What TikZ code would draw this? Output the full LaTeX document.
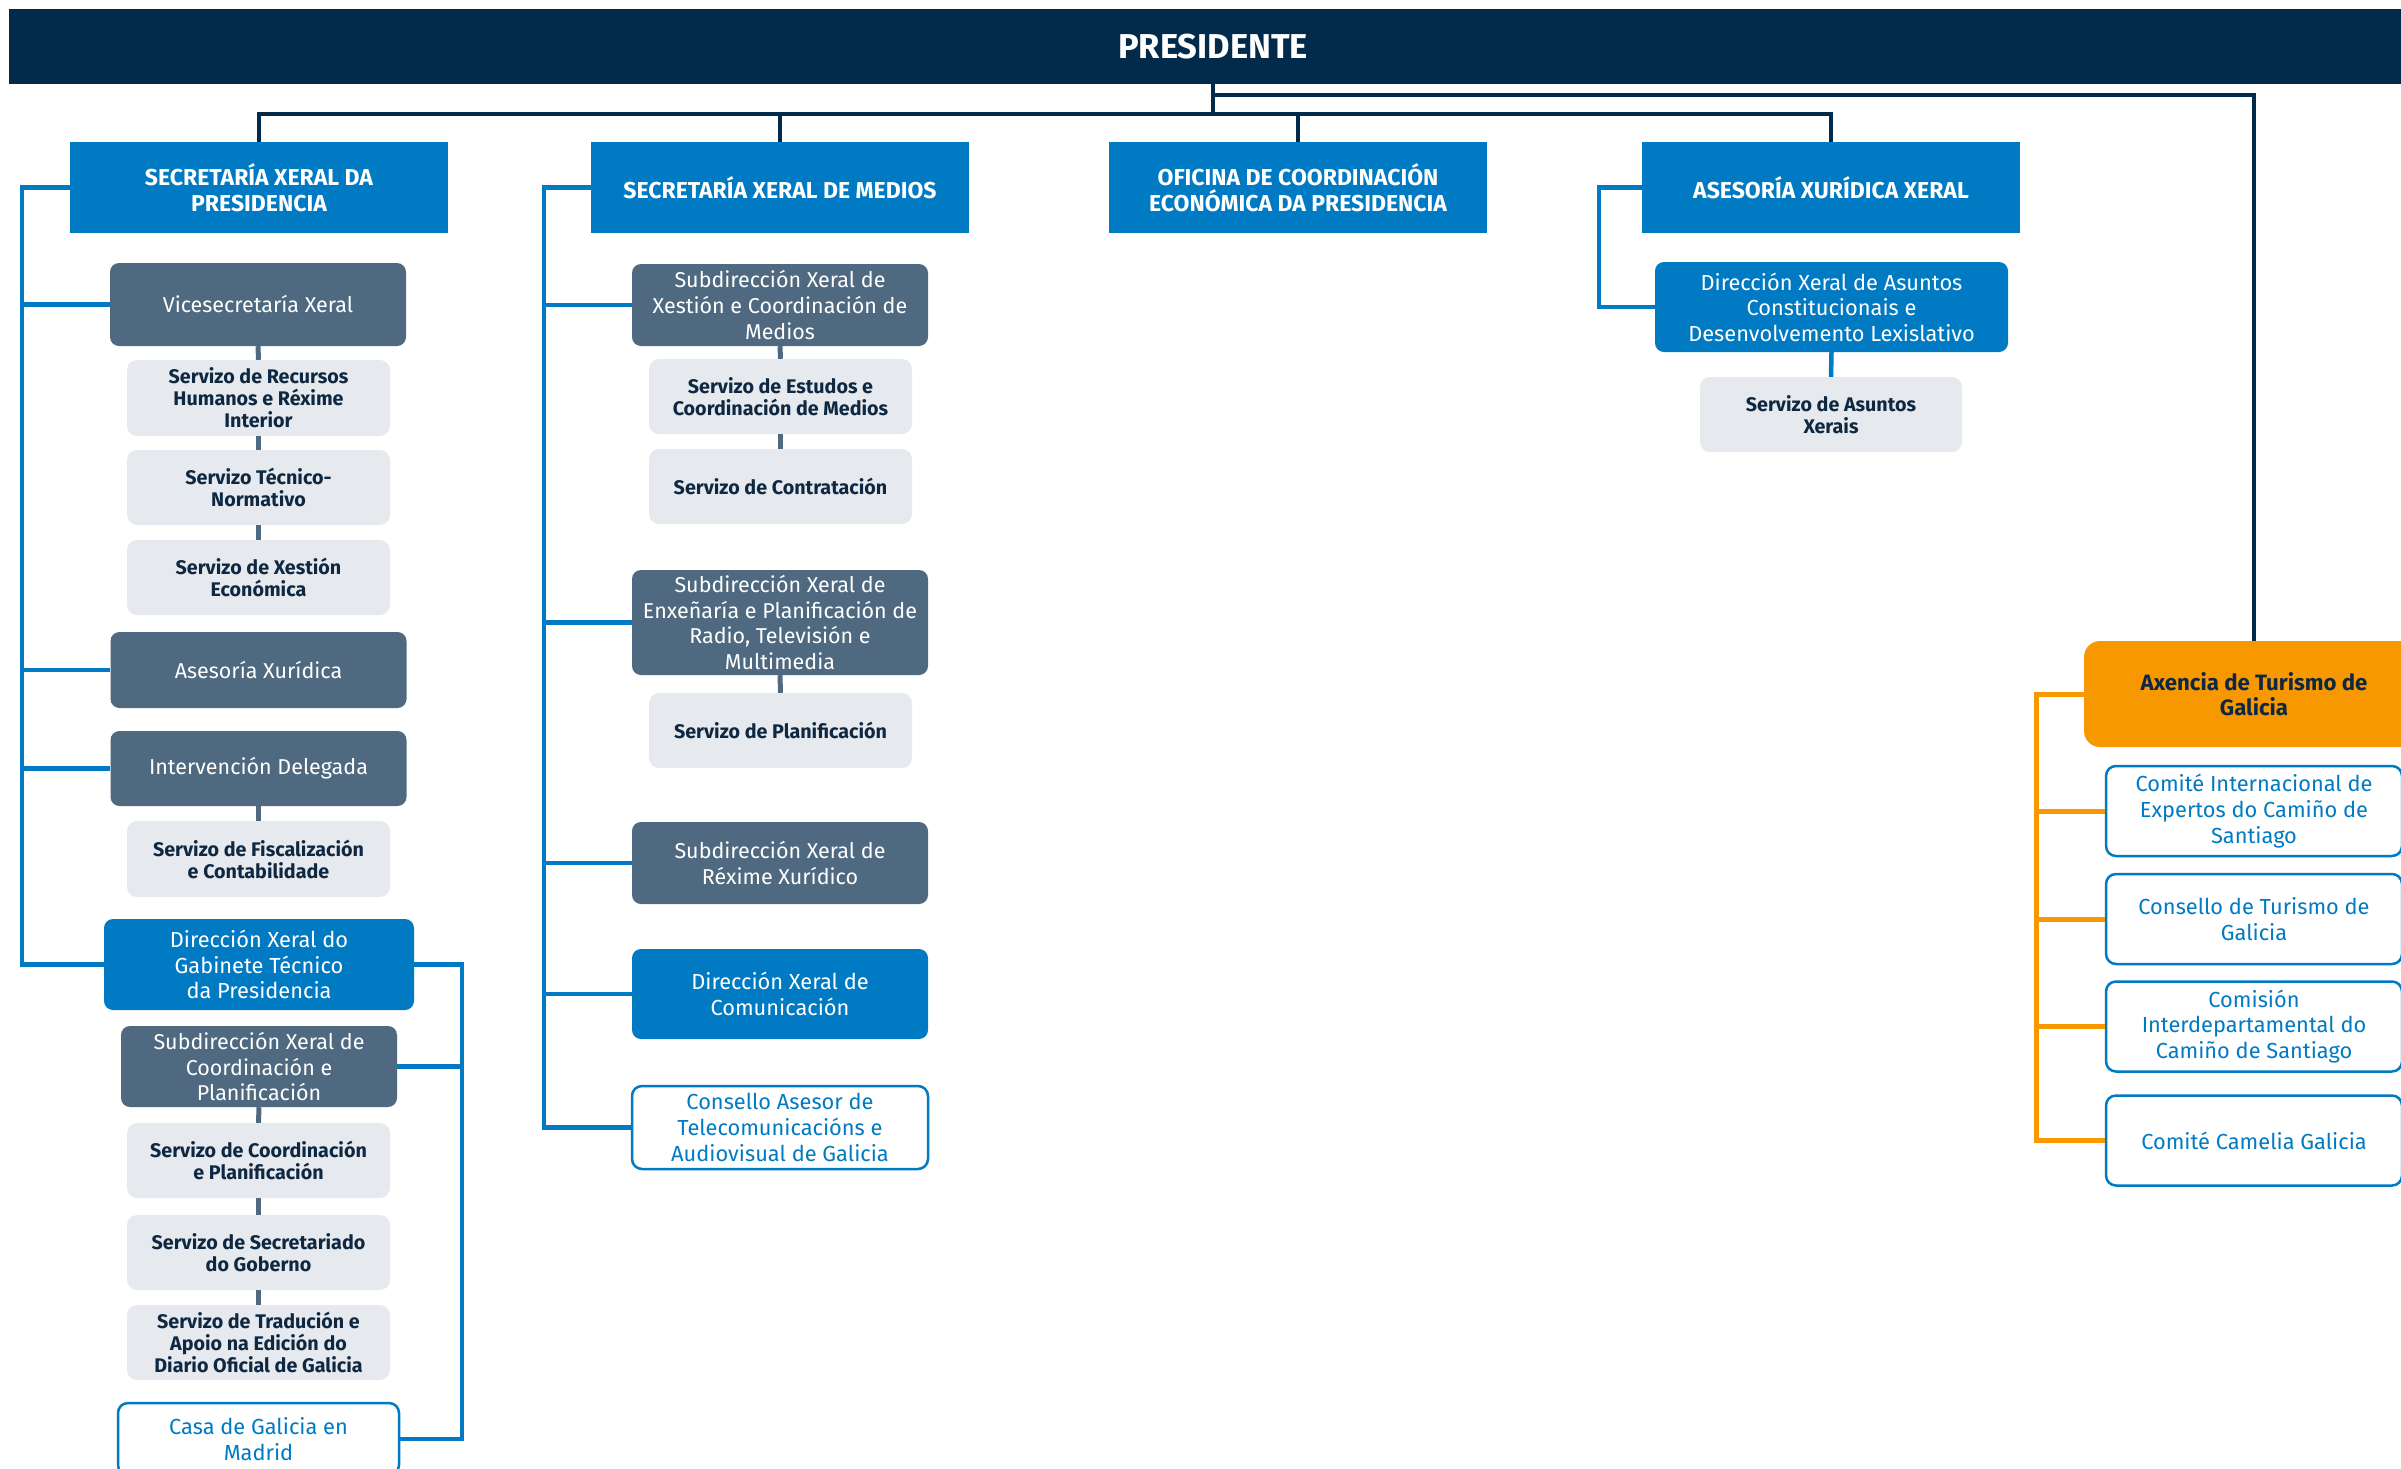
\documentclass[tikz,border=0pt]{standalone}
\usepackage{fontspec}
\setmainfont{Fira Sans}
\definecolor{cnavy}{RGB}{2,43,75}
\definecolor{cblue}{RGB}{0,122,194}
\definecolor{cslate}{RGB}{79,106,128}
\definecolor{cgray}{RGB}{230,233,237}
\definecolor{cdark}{RGB}{14,40,66}
\definecolor{corange}{RGB}{247,152,0}
\tikzset{
  topbox/.style={fill=cblue, text=white, font=\bfseries\fontsize{23}{25.7}\selectfont, minimum width=378pt, minimum height=91pt, inner sep=0pt, align=center},
  slatebox/.style={fill=cslate, text=white, rounded corners=9pt, font=\fontsize{21.5}{25.6}\selectfont, minimum width=296pt, inner sep=0pt, align=center},
  graybox/.style={fill=cgray, text=cdark, rounded corners=10pt, font=\bfseries\fontsize{19.7}{22}\selectfont, minimum width=263pt, minimum height=75pt, inner sep=0pt, align=center},
  bluebox/.style={fill=cblue, text=white, rounded corners=9pt, font=\fontsize{21.8}{25.6}\selectfont, inner sep=0pt, align=center},
  outbox/.style={draw=cblue, line width=2.5pt, fill=white, text=cblue, rounded corners=10pt, font=\fontsize{21.8}{25.6}\selectfont, inner sep=0pt, align=center},
  navyline/.style={draw=cnavy, line width=4.5pt},
  spine/.style={draw=cblue, line width=4.5pt},
  stub/.style={draw=cslate, line width=5pt},
  oline/.style={draw=corange, line width=5pt}
}
\begin{document}
\begin{tikzpicture}[x=1pt,y=-1pt]
\useasboundingbox (0,0) rectangle (2401,1468);

% header
\node[fill=cnavy, minimum width=2408pt, minimum height=75pt, inner sep=0pt, text=white, font=\bfseries\fontsize{34.5}{40}\selectfont] (pres) at (1213,46.5) {PRESIDENTE};

% top level
\node[topbox] (sxp) at (259,187.5) {SECRETARÍA XERAL DA\\PRESIDENCIA};
\node[topbox] (sxm) at (780,187.5) {SECRETARÍA XERAL DE MEDIOS};
\node[topbox] (ocep) at (1298,187.5) {OFICINA DE COORDINACIÓN\\ECONÓMICA DA PRESIDENCIA};
\node[topbox] (axx) at (1831,187.5) {ASESORÍA XURÍDICA XERAL};

% column 1
\node[slatebox, minimum height=83pt] (vice) at (258,304.5) {Vicesecretaría Xeral};
\node[graybox, minimum height=76pt] (srh) at (258.5,398) {Servizo de Recursos\\Humanos e Réxime\\Interior};
\node[graybox] (stn) at (258.5,487.5) {Servizo Técnico-\\Normativo};
\node[graybox] (sxe) at (258.5,577.5) {Servizo de Xestión\\Económica};
\node[slatebox, minimum height=76pt] (asx) at (258.5,670) {Asesoría Xurídica};
\node[slatebox, minimum height=75pt] (intd) at (258.5,768.5) {Intervención Delegada};
\node[graybox, minimum height=76pt] (sfc) at (258.5,859) {Servizo de Fiscalización\\e Contabilidade};
\node[bluebox, minimum width=310pt, minimum height=91pt] (dxg) at (259,964.5) {Dirección Xeral do\\Gabinete Técnico\\da Presidencia};
\node[slatebox, minimum width=276pt, minimum height=81pt] (sxcp) at (259,1066.5) {Subdirección Xeral de\\Coordinación e\\Planificación};
\node[graybox] (scp) at (258.5,1160.5) {Servizo de Coordinación\\e Planificación};
\node[graybox] (ssg) at (258.5,1252.5) {Servizo de Secretariado\\do Goberno};
\node[graybox] (str) at (258.5,1342.5) {Servizo de Tradución e\\Apoio na Edición do\\Diario Oficial de Galicia};
\node[outbox, minimum width=281pt, minimum height=72pt] (casa) at (258.5,1439) {Casa de Galicia en\\Madrid};

% column 2
\node[slatebox, minimum height=82pt] (sxxm) at (780,305) {Subdirección Xeral de\\Xestión e Coordinación de\\Medios};
\node[graybox] (sec) at (780.5,396.5) {Servizo de Estudos e\\Coordinación de Medios};
\node[graybox] (scon) at (780.5,486.5) {Servizo de Contratación};
\node[slatebox, minimum height=105pt] (sxep) at (780,622.5) {Subdirección Xeral de\\Enxeñaría e Planificación de\\Radio, Televisión e\\Multimedia};
\node[graybox] (splan) at (780.5,730.5) {Servizo de Planificación};
\node[slatebox, minimum height=82pt] (sxrx) at (780,863) {Subdirección Xeral de\\Réxime Xurídico};
\node[bluebox, minimum width=296pt, minimum height=90pt] (dxc) at (780,994) {Dirección Xeral de\\Comunicación};
\node[outbox, minimum width=296pt, minimum height=83pt] (cat) at (780,1127.5) {Consello Asesor de\\Telecomunicacións e\\Audiovisual de Galicia};

% column 4
\node[bluebox, minimum width=353pt, minimum height=90pt] (dxac) at (1831.5,307) {Dirección Xeral de Asuntos\\Constitucionais e\\Desenvolvemento Lexislativo};
\node[graybox, minimum width=262pt] (sax) at (1831,414.5) {Servizo de Asuntos\\Xerais};

% orange column
\node[fill=corange, text=cdark, rounded corners=16pt, font=\bfseries\fontsize{22.2}{25}\selectfont, minimum width=340pt, minimum height=106pt, inner sep=0pt, align=center] (atg) at (2254,694) {Axencia de Turismo de\\Galicia};
\node[outbox, minimum width=296pt, minimum height=90pt] (cie) at (2254,811) {Comité Internacional de\\Expertos do Camiño de\\Santiago};
\node[outbox, minimum width=296pt, minimum height=90pt] (ctg) at (2254,919) {Consello de Turismo de\\Galicia};
\node[outbox, minimum width=296pt, minimum height=90pt] (cid) at (2254,1026.5) {Comisión\\Interdepartamental do\\Camiño de Santiago};
\node[outbox, minimum width=296pt, minimum height=90pt] (ccg) at (2254,1140.5) {Comité Camelia Galicia};

% coordinates
\coordinate (bus) at (1213,114);
\coordinate (bus2) at (1213,95);
\coordinate (ls) at (22,0);
\coordinate (ms) at (544,0);
\coordinate (rs) at (1599,0);
\coordinate (gs) at (462,0);
\coordinate (os) at (2036,0);

% top connectors
\draw[navyline] (pres.south -| bus) -- (bus);
\draw[navyline] (sxp.north) -- (sxp.north |- bus) -- (axx.north |- bus) -- (axx.north);
\draw[navyline] (sxm.north) -- (sxm.north |- bus);
\draw[navyline] (ocep.north) -- (ocep.north |- bus);
\draw[navyline] (bus2) -- (bus2 -| atg.north) -- (atg.north);

% column 1 spine
\draw[spine] (sxp.west) -| (ls |- dxg.west) -- (dxg.west);
\foreach \n in {vice,asx,intd} \draw[spine] (\n.west) -- (ls |- \n.west);
\draw[spine] (dxg.east) -| (gs |- casa.east) -- (casa.east);
\draw[spine] (sxcp.east) -- (gs |- sxcp.east);

% column 2 spine
\draw[spine] (sxm.west) -| (ms |- cat.west) -- (cat.west);
\foreach \n in {sxxm,sxep,sxrx,dxc} \draw[spine] (\n.west) -- (ms |- \n.west);

% column 4
\draw[spine] (axx.west) -| (rs |- dxac.west) -- (dxac.west);
\draw[spine] (dxac.south) -- (sax.north);

% orange
\draw[oline] (atg.west) -| (os |- ccg.west) -- (ccg.west);
\foreach \n in {cie,ctg,cid} \draw[oline] (\n.west) -- (os |- \n.west);

% stubs
\draw[stub] (vice.south) -- (srh.north);
\draw[stub] (srh.south) -- (stn.north);
\draw[stub] (stn.south) -- (sxe.north);
\draw[stub] (intd.south) -- (sfc.north);
\draw[stub] (sxcp.south) -- (scp.north);
\draw[stub] (scp.south) -- (ssg.north);
\draw[stub] (ssg.south) -- (str.north);
\draw[stub] (sxxm.south) -- (sec.north);
\draw[stub] (sec.south) -- (scon.north);
\draw[stub] (sxep.south) -- (splan.north);
\end{tikzpicture}
\end{document}
